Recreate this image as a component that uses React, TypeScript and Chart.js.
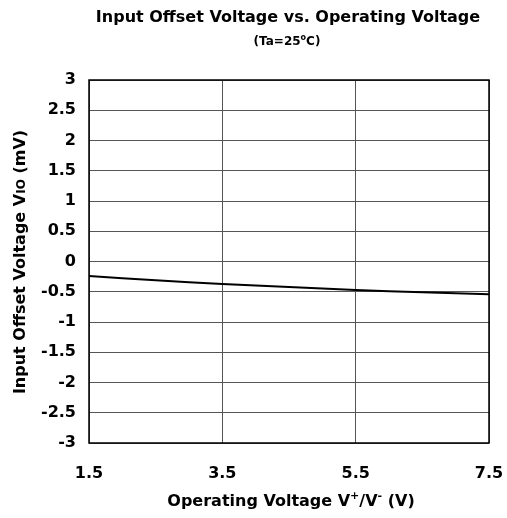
import React, { useEffect, useRef } from "react";
import { Chart, registerables } from "chart.js";

Chart.register(...registerables);

const voltages = [1.5, 2.5, 3.5, 4.5, 5.5, 6.5, 7.5];
const offsetValues = [-0.24, -0.31, -0.37, -0.42, -0.47, -0.51, -0.54];
const xTickValues = [1.5, 3.5, 5.5, 7.5];
const yTickValues = [-3, -2.5, -2, -1.5, -1, -0.5, 0, 0.5, 1, 1.5, 2, 2.5, 3];

const FONT = '"DejaVu Sans", "Liberation Sans", Arial, sans-serif';

type Seg = { text: string; size: number; dy?: number };

function drawRich(ctx: CanvasRenderingContext2D, segs: Seg[], cx: number, y: number) {
  let total = 0;
  const widths = segs.map((s) => {
    ctx.font = `bold ${s.size}px ${FONT}`;
    const w = ctx.measureText(s.text).width;
    total += w;
    return w;
  });
  let x = cx - total / 2;
  ctx.textAlign = "left";
  ctx.textBaseline = "alphabetic";
  segs.forEach((s, i) => {
    ctx.font = `bold ${s.size}px ${FONT}`;
    ctx.fillText(s.text, x, y + (s.dy || 0));
    x += widths[i];
  });
}

const textPlugin = {
  id: "textPlugin",
  afterDraw(chart: any) {
    const ctx: CanvasRenderingContext2D = chart.ctx;
    const area = chart.chartArea;
    ctx.save();
    ctx.strokeStyle = "#000";
    ctx.lineWidth = 1.5;
    ctx.strokeRect(area.left, area.top, area.right - area.left, area.bottom - area.top);
    ctx.fillStyle = "#000";
    drawRich(ctx, [{ text: "Input Offset Voltage vs. Operating Voltage", size: 16 }], 288, 22);
    drawRich(
      ctx,
      [
        { text: "(Ta=25", size: 12 },
        { text: "o", size: 8, dy: -5 },
        { text: "C)", size: 12 },
      ],
      287,
      45
    );
    drawRich(
      ctx,
      [
        { text: "Operating Voltage V", size: 16 },
        { text: "+", size: 11, dy: -7 },
        { text: "/V", size: 16 },
        { text: "-", size: 11, dy: -7 },
        { text: " (V)", size: 16 },
      ],
      291,
      506
    );
    ctx.translate(25, 262);
    ctx.rotate(-Math.PI / 2);
    drawRich(
      ctx,
      [
        { text: "Input Offset Voltage V", size: 16 },
        { text: "IO", size: 12, dy: 0 },
        { text: " (mV)", size: 16 },
      ],
      0,
      0
    );
    ctx.restore();
  },
};

export default function App() {
  const ref = useRef<HTMLCanvasElement | null>(null);
  useEffect(() => {
    document.body.style.margin = "0";
    if (!ref.current) return;
    const chart = new Chart(ref.current, {
      type: "line",
      data: {
        datasets: [
          {
            data: voltages.map((v, i) => ({ x: v, y: offsetValues[i] })),
            borderColor: "#000",
            borderWidth: 2,
            pointRadius: 0,
            tension: 0.3,
            fill: false,
          },
        ],
      },
      options: {
        responsive: false,
        animation: false,
        layout: { padding: { left: 0, top: 80, right: 18, bottom: 0 } },
        plugins: { legend: { display: false }, tooltip: { enabled: false }, title: { display: false } },
        scales: {
          x: {
            type: "linear",
            min: 1.5,
            max: 7.5,
            afterBuildTicks: (scale: any) => {
              scale.ticks = xTickValues.map((v) => ({ value: v }));
            },
            afterFit: (scale: any) => {
              scale.height = 75;
              scale.paddingLeft = 0;
              scale.paddingRight = 0;
            },
            grid: { color: "#555", lineWidth: 1, drawTicks: false },
            border: { display: false },
            ticks: {
              padding: 21,
              color: "#000",
              font: { family: FONT, size: 16, weight: "bold" },
              callback: (v: any) => String(v),
              maxRotation: 0,
            },
          },
          y: {
            type: "linear",
            min: -3,
            max: 3,
            afterBuildTicks: (scale: any) => {
              scale.ticks = yTickValues.map((v) => ({ value: v }));
            },
            afterFit: (scale: any) => {
              scale.width = 89;
              scale.paddingTop = 0;
              scale.paddingBottom = 0;
            },
            grid: { color: "#555", lineWidth: 1, drawTicks: false },
            border: { display: false },
            ticks: {
              padding: 13,
              color: "#000",
              font: { family: FONT, size: 16, weight: "bold" },
              callback: (v: any) => String(v),
            },
          },
        },
      },
      plugins: [textPlugin],
    });
    return () => chart.destroy();
  }, []);
  return (
    <div style={{ width: 507, height: 518, background: "#fff" }}>
      <canvas ref={ref} width={507} height={518} />
    </div>
  );
}
